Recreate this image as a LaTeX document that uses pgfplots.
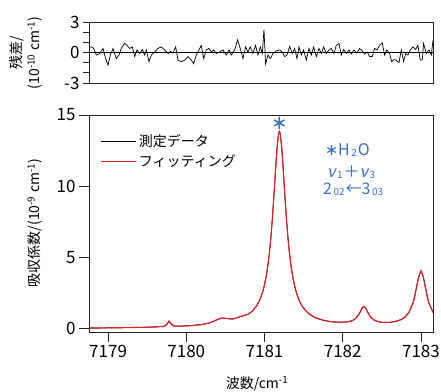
\documentclass[border=0pt]{standalone}
\usepackage{fontspec}
\setmainfont{Noto Sans CJK JP}
\newfontfamily\slantfont[FakeSlant=0.2]{Noto Sans CJK JP}
\usepackage{pgfplots}
\pgfplotsset{compat=1.18}
\definecolor{ann}{RGB}{58,112,191}
\definecolor{fitred}{RGB}{228,30,36}
\definecolor{axgray}{RGB}{35,35,35}
\newcommand{\sub}[1]{\kern1.5pt\raisebox{-1.2pt}{\fontsize{10}{10}\selectfont #1}}
\begin{document}
\begin{tikzpicture}[x=1pt,y=1pt]
\useasboundingbox (0,0) rectangle (441,391);
% ---------------- main panel ----------------
\begin{axis}[at={(89pt,59pt)}, anchor=south west, scale only axis,
  width=344pt, height=217pt,
  xmin=7178.756, xmax=7183.154, ymin=-0.25, ymax=15,
  xtick={7179,7180,7181,7182,7183}, xticklabels={7179,7180,7181,7182,7183},
  ytick={0,5,10,15}, yticklabels={0,5,10,15},
  tick pos=left, tick align=outside, major tick length=10pt,
  tick style={axgray, line width=0.8pt},
  axis line style={axgray, line width=0.8pt},
  ticklabel style={font=\fontsize{17}{17}\selectfont},
  legend style={draw=none, fill=none, at={(0.025,0.93)}, anchor=north west,
    font=\fontsize{14}{14}\selectfont, row sep=3pt},
  legend cell align=left,
  legend image code/.code={\draw[#1] (0pt,0pt) -- (35pt,0pt);},
  clip=true]
\addplot[black, line width=0.8pt] coordinates {
(7178.756,0.02) (7178.80,0.04) (7178.85,0.02) (7178.90,0.04) (7178.95,0.03) (7179.00,0.05) (7179.05,0.04) (7179.10,0.06) (7179.15,0.04) (7179.20,0.06) (7179.25,0.07) (7179.30,0.06) (7179.35,0.08) (7179.40,0.07) (7179.45,0.09) (7179.50,0.08) (7179.55,0.10) (7179.60,0.10) (7179.65,0.13) (7179.70,0.14) (7179.73,0.19) (7179.76,0.35) (7179.78,0.51) (7179.80,0.37) (7179.83,0.19) (7179.86,0.17) (7179.90,0.15) (7179.95,0.17) (7180.00,0.17) (7180.05,0.20) (7180.10,0.21) (7180.15,0.25) (7180.20,0.27) (7180.25,0.34) (7180.30,0.39) (7180.35,0.51) (7180.40,0.63) (7180.45,0.74) (7180.50,0.71) (7180.55,0.68) (7180.60,0.66) (7180.65,0.76) (7180.70,0.84) (7180.75,0.94) (7180.80,1.02) (7180.85,1.26) (7180.90,1.59) (7180.92,1.80) (7180.94,2.01) (7180.96,2.32) (7180.98,2.63) (7181.00,3.10) (7181.02,3.61) (7181.04,4.33) (7181.06,5.19) (7181.08,6.32) (7181.10,7.68) (7181.12,9.33) (7181.14,11.08) (7181.16,12.71) (7181.18,13.69) (7181.19,13.85) (7181.20,13.71) (7181.22,12.73) (7181.24,11.10) (7181.26,9.35) (7181.28,7.70) (7181.30,6.34) (7181.32,5.23) (7181.34,4.37) (7181.36,3.66) (7181.38,3.12) (7181.40,2.65) (7181.42,2.32) (7181.44,2.01) (7181.46,1.79) (7181.48,1.57) (7181.50,1.44) (7181.55,1.11) (7181.60,0.92) (7181.65,0.75) (7181.70,0.67) (7181.75,0.57) (7181.80,0.53) (7181.85,0.47) (7181.90,0.46) (7181.95,0.43) (7182.00,0.45) (7182.05,0.45) (7182.10,0.52) (7182.15,0.62) (7182.20,0.94) (7182.22,1.12) (7182.25,1.47) (7182.27,1.54) (7182.30,1.37) (7182.32,1.12) (7182.35,0.85) (7182.40,0.58) (7182.45,0.49) (7182.50,0.42) (7182.55,0.43) (7182.60,0.42) (7182.65,0.48) (7182.70,0.52) (7182.75,0.64) (7182.80,0.81) (7182.85,1.17) (7182.90,1.82) (7182.92,2.26) (7182.95,3.07) (7182.97,3.63) (7183.00,4.05) (7183.03,3.63) (7183.05,3.06) (7183.08,2.26) (7183.10,1.82) (7183.154,1.13)
};
\addlegendentry{測定データ}
\addplot[fitred, line width=1.1pt] coordinates {
(7178.756,0.03) (7178.80,0.03) (7178.85,0.03) (7178.90,0.035) (7178.95,0.04) (7179.00,0.04) (7179.05,0.045) (7179.10,0.05) (7179.15,0.05) (7179.20,0.055) (7179.25,0.06) (7179.30,0.065) (7179.35,0.07) (7179.40,0.075) (7179.45,0.08) (7179.50,0.085) (7179.55,0.095) (7179.60,0.105) (7179.65,0.12) (7179.70,0.14) (7179.73,0.18) (7179.76,0.35) (7179.78,0.52) (7179.80,0.36) (7179.83,0.20) (7179.86,0.165) (7179.90,0.16) (7179.95,0.165) (7180.00,0.18) (7180.05,0.19) (7180.10,0.215) (7180.15,0.24) (7180.20,0.275) (7180.25,0.325) (7180.30,0.395) (7180.35,0.50) (7180.40,0.635) (7180.45,0.73) (7180.50,0.715) (7180.55,0.67) (7180.60,0.67) (7180.65,0.75) (7180.70,0.85) (7180.75,0.92) (7180.80,1.03) (7180.85,1.245) (7180.90,1.595) (7180.92,1.79) (7180.94,2.02) (7180.96,2.31) (7180.98,2.64) (7181.00,3.07) (7181.02,3.63) (7181.04,4.32) (7181.06,5.20) (7181.08,6.31) (7181.10,7.69) (7181.12,9.32) (7181.14,11.09) (7181.16,12.70) (7181.18,13.70) (7181.19,13.84) (7181.20,13.72) (7181.22,12.72) (7181.24,11.11) (7181.26,9.34) (7181.28,7.71) (7181.30,6.33) (7181.32,5.24) (7181.34,4.36) (7181.36,3.67) (7181.38,3.11) (7181.40,2.66) (7181.42,2.31) (7181.44,2.02) (7181.46,1.78) (7181.48,1.58) (7181.50,1.43) (7181.55,1.12) (7181.60,0.91) (7181.65,0.76) (7181.70,0.66) (7181.75,0.58) (7181.80,0.52) (7181.85,0.48) (7181.90,0.45) (7181.95,0.44) (7182.00,0.44) (7182.05,0.46) (7182.10,0.51) (7182.15,0.63) (7182.20,0.93) (7182.22,1.13) (7182.25,1.46) (7182.27,1.55) (7182.30,1.36) (7182.32,1.13) (7182.35,0.84) (7182.40,0.59) (7182.45,0.48) (7182.50,0.43) (7182.55,0.42) (7182.60,0.43) (7182.65,0.47) (7182.70,0.53) (7182.75,0.63) (7182.80,0.82) (7182.85,1.16) (7182.90,1.83) (7182.92,2.25) (7182.95,3.08) (7182.97,3.62) (7183.00,4.06) (7183.03,3.62) (7183.05,3.07) (7183.08,2.25) (7183.10,1.83) (7183.154,1.12)
};
\addlegendentry{フィッティング}
\node[ann, font=\fontsize{16}{16}\selectfont\bfseries, inner sep=0pt] at (axis cs:7181.19,14.4) {＊};
\end{axis}
% annotation
\node[ann, font=\fontsize{16}{16}\selectfont, anchor=west, inner sep=0pt] at (325,241) {{\fontsize{13}{13}\selectfont\bfseries ＊}H\sub{2}\kern1pt O};
\node[ann, font=\fontsize{16}{16}\selectfont, anchor=west, inner sep=0pt] at (327,219) {{\slantfont ν}\sub{1}\kern1pt＋{\slantfont ν}\sub{3}};
\node[ann, font=\fontsize{16}{16}\selectfont, anchor=west, inner sep=0pt] at (323,202) {2\sub{02}\kern1pt←3\sub{03}};
% ---------------- residual panel ----------------
\begin{axis}[at={(89pt,308pt)}, anchor=south west, scale only axis,
  width=344pt, height=61pt,
  xmin=7178.756, xmax=7183.154, ymin=-3, ymax=3,
  xtick=\empty,
  ytick={-3,0,3}, yticklabels={-3,0,3}, minor ytick={-2,-1,1,2},
  tick pos=left, tick align=outside, major tick length=6pt, minor tick length=6pt,
  tick style={axgray, line width=0.8pt},
  axis line style={axgray, line width=0.8pt},
  ticklabel style={font=\fontsize{17}{17}\selectfont},
  clip=true]
\addplot[black, line width=0.6pt] coordinates {(7178.756,0) (7183.154,0)};
\addplot[black, line width=0.7pt] coordinates {
(7178.756,0.55) (7178.786,0.55) (7178.816,0.4) (7178.850,-0.25) (7178.892,-0.1) (7178.935,0.4) (7178.969,-0.6) (7178.999,-1.25) (7179.029,-0.25) (7179.063,0.4) (7179.105,-0.6) (7179.139,-0.25) (7179.169,0.4) (7179.212,0.9) (7179.242,0.7) (7179.276,0.4) (7179.310,0.55) (7179.340,-0.4) (7179.370,0.25) (7179.404,-0.1) (7179.438,0.3) (7179.468,-0.25) (7179.489,0.25) (7179.523,-0.9) (7179.553,-0.25) (7179.595,0.05) (7179.638,0.4) (7179.681,0.55) (7179.723,0.25) (7179.766,-0.1) (7179.796,0.1) (7179.830,-0.05) (7179.864,0.55) (7179.894,-0.75) (7179.936,-0.9) (7179.979,-0.75) (7180.021,-0.4) (7180.064,-0.75) (7180.094,-1.1) (7180.128,-0.25) (7180.162,0.25) (7180.192,0.7) (7180.222,-0.6) (7180.256,0.25) (7180.290,0.4) (7180.320,0.05) (7180.350,0.25) (7180.384,-0.1) (7180.426,0.05) (7180.469,0.25) (7180.511,-0.25) (7180.546,0.25) (7180.575,-0.25) (7180.618,0.25) (7180.656,1.25) (7180.690,0.4) (7180.724,-0.6) (7180.759,0.55) (7180.788,0.05) (7180.818,0.55) (7180.852,-0.1) (7180.886,0.7) (7180.916,-0.25) (7180.946,0.55) (7180.972,-0.1) (7180.993,2.25) (7181.014,-1.15) (7181.044,-0.25) (7181.074,-0.6) (7181.108,-0.1) (7181.151,0.15) (7181.193,0.25) (7181.227,0.05) (7181.257,-0.4) (7181.287,-0.25) (7181.321,0.6) (7181.355,-0.1) (7181.385,0.4) (7181.415,-0.6) (7181.440,0.55) (7181.470,-0.25) (7181.500,0.25) (7181.534,-0.75) (7181.568,0.4) (7181.598,-0.25) (7181.628,0.55) (7181.662,-0.4) (7181.696,0.4) (7181.726,-0.1) (7181.756,0.55) (7181.790,-0.1) (7181.824,0.25) (7181.854,0.4) (7181.888,-0.1) (7181.917,0.7) (7181.952,0.9) (7181.981,-0.25) (7182.011,0.3) (7182.045,-0.1) (7182.079,0.25) (7182.109,-0.15) (7182.143,0.25) (7182.182,-0.05) (7182.216,0.4) (7182.250,0.15) (7182.280,-0.15) (7182.314,0.05) (7182.344,-0.4) (7182.378,-0.4) (7182.407,0.4) (7182.437,0.25) (7182.471,0.7) (7182.505,0.95) (7182.535,-0.25) (7182.565,0.25) (7182.599,-0.1) (7182.625,-0.9) (7182.655,-0.7) (7182.684,-0.75) (7182.719,-1.0) (7182.748,0.25) (7182.778,-0.9) (7182.804,-0.1) (7182.834,-0.25) (7182.863,0.25) (7182.897,0.55) (7182.932,0.3) (7182.961,0.7) (7182.991,-0.75) (7183.017,-0.7) (7183.034,0.9) (7183.068,-0.1) (7183.102,0.25) (7183.132,-0.25) (7183.154,1.2)
};
\end{axis}
% axis labels
\node[font=\fontsize{14}{14}\selectfont, rotate=90, inner sep=0pt] at (35,168) {吸収係数/(10\textsuperscript{-9} cm\textsuperscript{-1})};
\node[font=\fontsize{14}{14}\selectfont, rotate=90, inner sep=0pt] at (17,338) {残差/};
\node[font=\fontsize{14}{14}\selectfont, rotate=90, inner sep=0pt] at (35,338) {(10\textsuperscript{-10} cm\textsuperscript{-1})};
\node[font=\fontsize{14}{14}\selectfont, inner sep=0pt] at (257,7) {波数/cm\textsuperscript{-1}};
\end{tikzpicture}
\end{document}
